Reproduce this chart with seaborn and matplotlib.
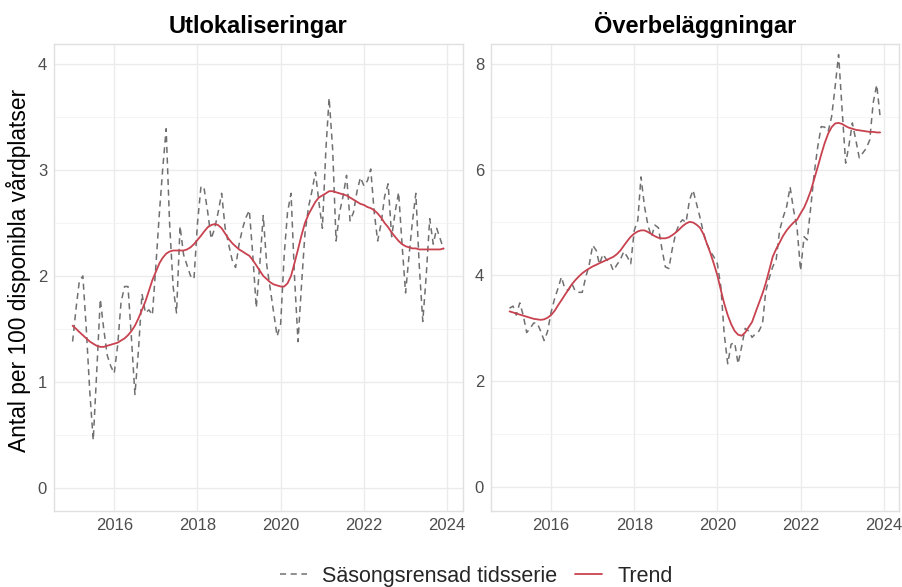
import pandas as pd
import numpy as np
import matplotlib.pyplot as plt
import matplotlib.dates as mdates
import seaborn as sns

# Månadsdata jan 2015 - dec 2023
datum = pd.date_range(start="2015-01-01", periods=108, freq="MS")

utlok_sasong = [
    1.38, 1.70, 1.95, 2.00, 1.50, 0.90, 0.45, 1.10, 1.78, 1.50, 1.25, 1.15,
    1.08, 1.35, 1.75, 1.90, 1.90, 1.40, 0.88, 1.30, 1.83, 1.65, 1.68, 1.63,
    2.10, 2.60, 3.00, 3.39, 2.50, 1.90, 1.65, 2.47, 2.20, 2.10, 2.00, 1.97,
    2.50, 2.85, 2.82, 2.60, 2.35, 2.45, 2.60, 2.78, 2.45, 2.30, 2.15, 2.08,
    2.30, 2.45, 2.55, 2.62, 2.20, 1.70, 2.10, 2.57, 2.10, 1.88, 1.65, 1.43,
    1.55, 2.20, 2.60, 2.78, 2.00, 1.38, 1.90, 2.40, 2.65, 2.80, 2.98, 2.70,
    2.45, 3.20, 3.68, 3.20, 2.33, 2.60, 2.75, 2.95, 2.52, 2.60, 2.80, 2.93,
    2.85, 2.90, 3.01, 2.60, 2.33, 2.50, 2.75, 2.87, 2.37, 2.60, 2.79, 2.30,
    1.84, 2.20, 2.50, 2.78, 2.10, 1.57, 2.00, 2.54, 2.30, 2.45, 2.35, 2.25,
]
utlok_trend = [
    1.53, 1.50, 1.47, 1.44, 1.41, 1.38, 1.36, 1.34, 1.33, 1.33, 1.34, 1.35,
    1.36, 1.37, 1.39, 1.41, 1.44, 1.48, 1.53, 1.60, 1.68, 1.76, 1.86, 1.96,
    2.04, 2.12, 2.17, 2.21, 2.23, 2.24, 2.24, 2.24, 2.24, 2.25, 2.27, 2.30,
    2.34, 2.38, 2.42, 2.46, 2.48, 2.49, 2.48, 2.45, 2.40, 2.35, 2.31, 2.28,
    2.25, 2.23, 2.21, 2.19, 2.15, 2.10, 2.05, 2.00, 1.97, 1.94, 1.92, 1.91,
    1.90, 1.90, 1.93, 2.00, 2.12, 2.25, 2.38, 2.50, 2.58, 2.64, 2.70, 2.74,
    2.76, 2.78, 2.80, 2.80, 2.79, 2.78, 2.77, 2.76, 2.74, 2.72, 2.70, 2.68,
    2.67, 2.65, 2.64, 2.62, 2.59, 2.55, 2.50, 2.46, 2.41, 2.37, 2.33, 2.30,
    2.28, 2.27, 2.26, 2.26, 2.25, 2.25, 2.25, 2.25, 2.25, 2.25, 2.25, 2.26,
]

overbel_sasong = [
    3.38, 3.42, 3.25, 3.48, 3.25, 2.92, 3.00, 3.10, 3.10, 2.95, 2.77, 2.94,
    3.30, 3.56, 3.75, 3.97, 3.75, 3.72, 3.85, 3.70, 3.68, 3.68, 3.97, 4.20,
    4.57, 4.47, 4.21, 4.40, 4.30, 4.25, 4.09, 4.20, 4.30, 4.45, 4.35, 4.22,
    4.85, 5.04, 5.86, 5.30, 4.95, 4.73, 4.95, 4.90, 4.50, 4.16, 4.13, 4.50,
    4.80, 4.98, 5.05, 5.00, 5.42, 5.61, 5.36, 5.10, 4.80, 4.60, 4.45, 4.35,
    4.22, 3.78, 2.90, 2.33, 2.70, 2.73, 2.33, 2.65, 3.00, 2.95, 2.83, 2.90,
    2.95, 3.09, 3.70, 3.95, 4.16, 4.30, 4.85, 5.10, 5.30, 5.67, 5.23, 4.90,
    4.09, 4.73, 4.67, 5.30, 5.93, 6.43, 6.81, 6.80, 6.72, 7.00, 7.57, 8.17,
    7.13, 6.12, 6.44, 6.88, 6.56, 6.22, 6.31, 6.40, 6.56, 7.26, 7.60, 7.00,
]
overbel_trend = [
    3.32, 3.30, 3.28, 3.26, 3.24, 3.22, 3.20, 3.18, 3.17, 3.16, 3.17, 3.20,
    3.25, 3.33, 3.43, 3.53, 3.63, 3.73, 3.83, 3.91, 3.98, 4.04, 4.09, 4.13,
    4.17, 4.20, 4.23, 4.26, 4.29, 4.32, 4.35, 4.40, 4.47, 4.56, 4.65, 4.73,
    4.79, 4.83, 4.85, 4.85, 4.82, 4.78, 4.74, 4.71, 4.70, 4.70, 4.72, 4.76,
    4.81, 4.87, 4.93, 4.98, 5.01, 5.00, 4.96, 4.90, 4.78, 4.60, 4.42, 4.22,
    4.00, 3.72, 3.47, 3.25, 3.08, 2.95, 2.88, 2.86, 2.92, 3.02, 3.12, 3.30,
    3.48, 3.66, 3.85, 4.10, 4.35, 4.50, 4.62, 4.75, 4.85, 4.93, 5.00, 5.05,
    5.17, 5.28, 5.42, 5.60, 5.82, 6.05, 6.28, 6.50, 6.68, 6.80, 6.87, 6.88,
    6.86, 6.82, 6.79, 6.77, 6.75, 6.74, 6.73, 6.72, 6.71, 6.71, 6.70, 6.70,
]

paneler = ["Utlokaliseringar", "Överbeläggningar"]
serier = ["Säsongsrensad tidsserie", "Trend"]

rows = []
for panel, sa, tr in [(paneler[0], utlok_sasong, utlok_trend),
                      (paneler[1], overbel_sasong, overbel_trend)]:
    rows.append(pd.DataFrame({"Datum": datum, "Värde": sa, "Serie": serier[0], "Panel": panel}))
    rows.append(pd.DataFrame({"Datum": datum, "Värde": tr, "Serie": serier[1], "Panel": panel}))
df = pd.concat(rows, ignore_index=True)

sns.set_theme(style="whitegrid")
plt.rcParams["font.family"] = ["Liberation Sans", "DejaVu Sans"]

farger = {serier[0]: "#707070", serier[1]: "#c8424f"}
streck = {serier[0]: (4, 3), serier[1]: ""}

fig = plt.figure(figsize=(9.02, 5.87), dpi=100)
ax1 = fig.add_axes([0.0599, 0.1295, 0.4529, 0.7955])
ax2 = fig.add_axes([0.5443, 0.1295, 0.4524, 0.7955])

ylims = [(-0.22, 4.19), (-0.45, 8.37)]
yticks = [[0, 1, 2, 3, 4], [0, 2, 4, 6, 8]]
yminor = [[0.5, 1.5, 2.5, 3.5], [1, 3, 5, 7]]

for ax, panel, yl, yt, ym in zip([ax1, ax2], paneler, ylims, yticks, yminor):
    sub = df[df["Panel"] == panel]
    sns.lineplot(ax=ax, data=sub, x="Datum", y="Värde", hue="Serie", style="Serie",
                 palette=farger, dashes=streck, linewidth=1.3, legend=False)
    for line, s in zip(ax.get_lines(), serier):
        if s == serier[0]:
            line.set_linewidth(1.1)
    ax.set_title(panel, fontsize=17, fontweight="bold", color="black", pad=8)
    ax.set_xlabel("")
    ax.set_ylabel("")
    ax.set_xlim(pd.Timestamp("2014-07-22"), pd.Timestamp("2024-05-15"))
    ax.xaxis.set_major_locator(mdates.YearLocator(2))
    ax.xaxis.set_major_formatter(mdates.DateFormatter("%Y"))
    ax.set_ylim(*yl)
    ax.set_yticks(yt)
    ax.set_yticks(ym, minor=True)
    ax.grid(True, which="major", color="#ebebeb", linewidth=1.0)
    ax.grid(True, which="minor", axis="y", color="#f2f2f2", linewidth=0.6)
    ax.set_axisbelow(True)
    ax.tick_params(axis="both", which="both", length=0, labelsize=12,
                   labelcolor="#4d4d4d", pad=5)
    for sp in ax.spines.values():
        sp.set_color("#e0e0e0")
        sp.set_linewidth(1.0)

fig.text(0.02, 0.54, "Antal per 100 disponibla vårdplatser", rotation=90,
         ha="center", va="center", fontsize=16.4, color="black")

handles = ax1.get_lines()[:2]
fig.legend(handles, serier, loc="center", bbox_to_anchor=(0.528, 0.018),
           ncol=2, frameon=False, fontsize=15.5, handlelength=1.25,
           columnspacing=0.85, handletextpad=0.7)

plt.savefig("out.png", dpi=100)
